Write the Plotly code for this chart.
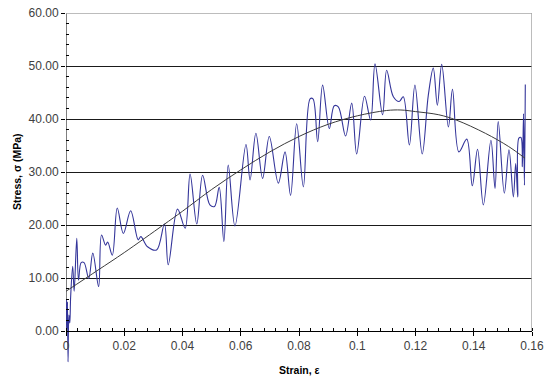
import plotly.graph_objects as go

# Measured stress-strain data (blue curve)
strain = [0.0000, 0.0002, 0.0004, 0.0005, 0.0007, 0.0010, 0.0013, 0.0016, 0.0023, 0.0028,
          0.0037, 0.0043, 0.0052, 0.0062, 0.0078, 0.0092, 0.0112, 0.0122, 0.0136, 0.0143,
          0.0159, 0.0176, 0.0197, 0.0222, 0.0248, 0.0257, 0.0280, 0.0311, 0.0338, 0.0351,
          0.0383, 0.0409, 0.0426, 0.0449, 0.0469, 0.0494, 0.0510, 0.0526, 0.0542, 0.0557,
          0.0580, 0.0618, 0.0632, 0.0652, 0.0675, 0.0698, 0.0729, 0.0752, 0.0771, 0.0792,
          0.0815, 0.0838, 0.0848, 0.0864, 0.0881, 0.0904, 0.0921, 0.0935, 0.0960, 0.0981,
          0.0998, 0.1025, 0.1046, 0.1061, 0.1087, 0.1101, 0.1124, 0.1144, 0.1158, 0.1179,
          0.1198, 0.1223, 0.1244, 0.1261, 0.1275, 0.1290, 0.1313, 0.1327, 0.1349, 0.1376,
          0.1395, 0.1413, 0.1433, 0.1459, 0.1473, 0.1484, 0.1505, 0.1521, 0.1536, 0.1544,
          0.1551, 0.1555, 0.1562, 0.1567, 0.1571, 0.1574, 0.1577]
stress = [0.0, 6.0, 0.5, 5.5, -5.8, 3.0, 1.5, 6.5, 12.2, 7.5,
          17.5, 9.6, 12.9, 12.9, 9.9, 14.7, 8.4, 18.1, 16.2, 16.8,
          14.3, 23.2, 18.4, 22.7, 17.2, 17.8, 15.9, 15.3, 20.2, 12.5,
          23.0, 19.4, 29.6, 20.2, 29.4, 23.8, 23.5, 27.1, 16.9, 31.3,
          19.8, 35.2, 28.5, 37.3, 28.8, 36.7, 27.9, 33.8, 25.6, 39.1,
          27.2, 43.8, 43.8, 35.7, 46.4, 38.2, 42.5, 42.3, 36.8, 43.0,
          33.4, 44.3, 39.8, 50.4, 40.8, 49.2, 44.2, 43.3, 44.2, 35.1,
          46.4, 33.4, 44.5, 49.6, 42.6, 50.3, 38.5, 45.6, 33.8, 36.2,
          27.4, 34.3, 23.8, 36.0, 26.9, 39.5, 26.0, 34.2, 25.3, 31.6,
          25.3, 36.4, 36.5, 31.0, 41.0, 27.5, 46.5]

# Trend curve (dark grey)
trend_strain = [0.0, 0.011, 0.02, 0.0334, 0.04, 0.05, 0.06, 0.07, 0.08, 0.09,
                0.10, 0.11, 0.115, 0.12, 0.128, 0.134, 0.144, 0.152, 0.1576]
trend_stress = [7.5, 11.5, 14.8, 20.0, 22.6, 26.7, 30.4, 33.8, 36.7, 39.0,
                40.6, 41.6, 41.7, 41.4, 40.8, 39.8, 37.3, 34.8, 32.6]

y_ticks = [0, 10, 20, 30, 40, 50, 60]
y_tick_labels = ["0.00", "10.00", "20.00", "30.00", "40.00", "50.00", "60.00"]
x_ticks = [0, 0.02, 0.04, 0.06, 0.08, 0.1, 0.12, 0.14, 0.16]
x_tick_labels = ["0", "0.02", "0.04", "0.06", "0.08", "0.1", "0.12", "0.14", "0.16"]

Y_MIN, Y_MAX = -6.6, 60
X_MIN, X_MAX = 0, 0.16

tick_font = dict(family="Liberation Sans, Arial, sans-serif", size=12, color="#404040")
title_font = dict(family="Liberation Sans, Arial, sans-serif", size=10.5, color="#000000")

fig = go.Figure()
fig.add_trace(go.Scatter(x=strain, y=stress, mode="lines",
                         line=dict(color="#34359a", width=1.1, shape="spline", smoothing=1.0),
                         hoverinfo="x+y"))
fig.add_trace(go.Scatter(x=trend_strain, y=trend_stress, mode="lines",
                         line=dict(color="#3c3c3c", width=1, shape="spline", smoothing=1.0),
                         hoverinfo="x+y"))

fig.update_layout(
    width=550, height=382,
    margin=dict(l=66, r=18, t=13, b=16, autoexpand=False),
    plot_bgcolor="white", paper_bgcolor="white",
    showlegend=False,
    xaxis=dict(range=[X_MIN, X_MAX], anchor="free", position=(0 - Y_MIN) / (Y_MAX - Y_MIN),
               tickvals=x_ticks, ticktext=x_tick_labels, showgrid=False, zeroline=False,
               showline=True, linecolor="#000000", linewidth=1, automargin=False,
               ticklabeloverflow="allow",
               ticks="outside", ticklen=4, tickcolor="#000000",
               minor=dict(dtick=0.004, ticks="inside", ticklen=3, tickcolor="#000000", showgrid=False),
               tickfont=tick_font),
    yaxis=dict(range=[Y_MIN, Y_MAX], tickvals=y_ticks, ticktext=y_tick_labels,
               showgrid=True, gridcolor="#1a1a1a", gridwidth=1, zeroline=False,
               showline=False, ticks="outside", ticklen=4, tickcolor="#000000", automargin=False,
               ticklabeloverflow="allow",
               minor=dict(tickvals=[v for v in range(2, 60, 2) if v % 10], ticks="inside",
                          ticklen=3, tickcolor="#000000", showgrid=False),
               tickfont=tick_font),
    shapes=[
        dict(type="line", xref="x", yref="y", x0=X_MIN, x1=X_MIN, y0=0, y1=Y_MAX,
             line=dict(color="#000000", width=1), layer="between"),
        dict(type="line", xref="x", yref="y", x0=X_MIN, x1=X_MAX, y0=Y_MAX, y1=Y_MAX,
             line=dict(color="#a6a6a6", width=1.5), layer="above"),
        dict(type="line", xref="x", yref="y", x0=X_MAX, x1=X_MAX, y0=0, y1=Y_MAX,
             line=dict(color="#a6a6a6", width=1.5), layer="above"),
    ],
    annotations=[
        dict(text="<b>Stress, σ (MPa)</b>", xref="paper", yref="y", x=0, y=30,
             xanchor="center", yanchor="middle", xshift=-49, textangle=-90,
             showarrow=False, font=title_font),
        dict(text="<b>Strain, ε</b>", xref="x", yref="y", x=(X_MIN + X_MAX) / 2, y=0,
             xanchor="center", yanchor="middle", yshift=-39, showarrow=False, font=title_font),
    ],
)

# Remove the browser's default 8px body margin so the figure fills the window exactly.
fig.write_html("out.html", config={"displayModeBar": False},
               post_script="document.body.style.margin='0';")
